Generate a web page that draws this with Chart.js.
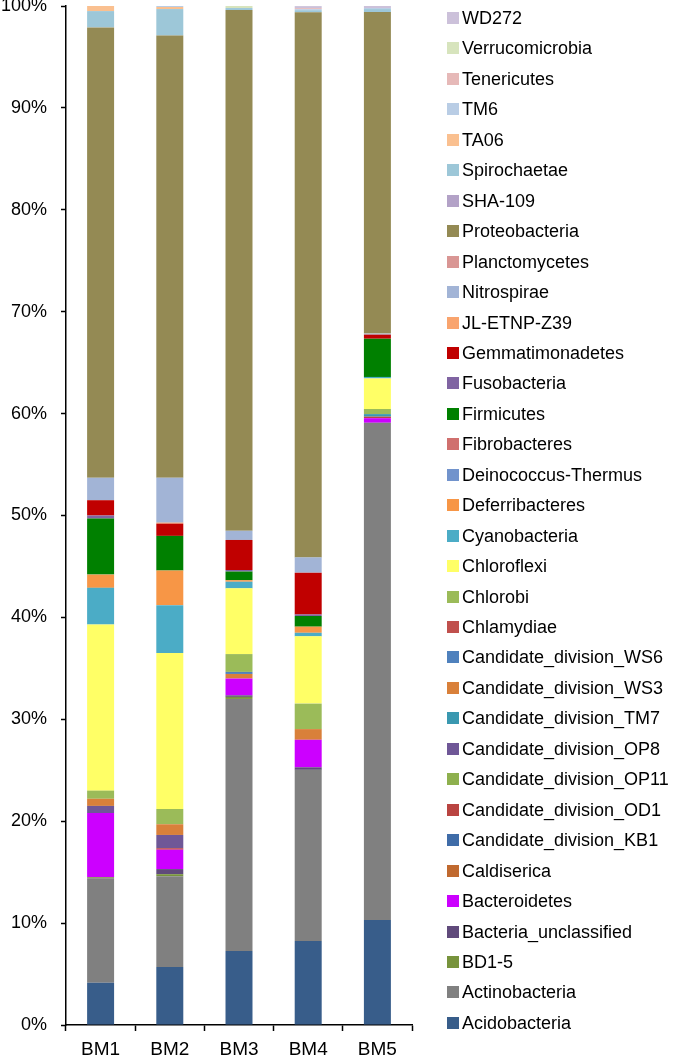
<!DOCTYPE html>
<html>
<head>
<meta charset="utf-8">
<script src="https://cdn.jsdelivr.net/npm/chart.js@4.4.1/dist/chart.umd.min.js"></script>
<style>
  html, body { margin: 0; padding: 0; background: #fff; }
  #wrap { position: relative; width: 685px; height: 1059px; overflow: hidden; }
  #c { position: absolute; left: 0; top: 0; }
  #legend { position: absolute; left: 447px; top: 0; font-family: "Liberation Sans", Arial, sans-serif; font-size: 18px; color: #000; }
  .li { position: absolute; left: 0; height: 22px; white-space: nowrap; }
  .sw { position: absolute; left: 0; top: 5px; width: 12px; height: 12px; }
  .tx { position: absolute; left: 15px; top: 0; line-height: 22px; }
</style>
</head>
<body>
<div id="wrap">
  <canvas id="c" width="685" height="1059"></canvas>
  <div id="legend"></div>
</div>
<script>
// Categories
const categories = ['BM1', 'BM2', 'BM3', 'BM4', 'BM5'];

// Series (bottom-to-top stacking order), values in % per sample
const Acidobacteria            = [4.15, 5.7, 7.26, 8.24, 10.3];
const Actinobacteria           = [10.25, 8.9, 24.74, 16.8, 48.8];
const BD1_5                    = [0.1, 0.2, 0.2, 0, 0];
const Bacteria_unclassified    = [0, 0.5, 0.15, 0.25, 0];
const Bacteroidetes            = [6.3, 1.9, 1.65, 2.7, 0.45];
const Caldiserica              = [0, 0, 0, 0, 0];
const Candidate_division_KB1   = [0, 0, 0, 0, 0];
const Candidate_division_OD1   = [0, 0.15, 0, 0, 0.15];
const Candidate_division_OP11  = [0, 0, 0, 0, 0];
const Candidate_division_OP8   = [0.7, 1.3, 0, 0, 0];
const Candidate_division_TM7   = [0, 0, 0, 0, 0.25];
const Candidate_division_WS3   = [0.7, 1.05, 0.45, 1.05, 0];
const Candidate_division_WS6   = [0, 0, 0.2, 0, 0];
const Chlamydiae               = [0, 0, 0, 0, 0];
const Chlorobi                 = [0.8, 1.5, 1.75, 2.5, 0.5];
const Chloroflexi              = [16.3, 15.3, 6.45, 6.6, 3.0];
const Cyanobacteria            = [3.6, 4.7, 0.65, 0.35, 0.15];
const Deferribacteres          = [1.3, 3.4, 0.15, 0.6, 0];
const Deinococcus_Thermus      = [0, 0, 0, 0, 0];
const Fibrobacteres            = [0, 0, 0, 0, 0];
const Firmicutes               = [5.5, 3.4, 0.85, 1.05, 3.75];
const Fusobacteria             = [0.3, 0, 0.15, 0.15, 0];
const Gemmatimonadetes         = [1.5, 1.2, 2.95, 4.1, 0.4];
const JL_ETNP_Z39              = [0, 0.1, 0, 0, 0];
const Nitrospirae              = [2.2, 4.4, 0.9, 1.5, 0.1];
const Planctomycetes           = [0, 0, 0, 0, 0];
const Proteobacteria           = [44.2, 43.4, 51.1, 53.5, 31.55];
const SHA_109                  = [0, 0, 0, 0, 0];
const Spirochaetae             = [1.6, 2.6, 0.2, 0.2, 0.3];
const TA06                     = [0.5, 0.2, 0, 0, 0];
const TM6                      = [0, 0.15, 0, 0.1, 0.1];
const Tenericutes              = [0, 0, 0, 0.1, 0];
const Verrucomicrobia          = [0, 0, 0.2, 0, 0];
const WD272                    = [0, 0, 0, 0.2, 0.3];

// Tick labels
const yTicks = [0, 10, 20, 30, 40, 50, 60, 70, 80, 90, 100];

const seriesNames = ['Acidobacteria','Actinobacteria','BD1-5','Bacteria_unclassified','Bacteroidetes','Caldiserica',
  'Candidate_division_KB1','Candidate_division_OD1','Candidate_division_OP11','Candidate_division_OP8',
  'Candidate_division_TM7','Candidate_division_WS3','Candidate_division_WS6','Chlamydiae','Chlorobi',
  'Chloroflexi','Cyanobacteria','Deferribacteres','Deinococcus-Thermus','Fibrobacteres','Firmicutes',
  'Fusobacteria','Gemmatimonadetes','JL-ETNP-Z39','Nitrospirae','Planctomycetes','Proteobacteria',
  'SHA-109','Spirochaetae','TA06','TM6','Tenericutes','Verrucomicrobia','WD272'];
const seriesValues = [Acidobacteria, Actinobacteria, BD1_5, Bacteria_unclassified, Bacteroidetes, Caldiserica,
  Candidate_division_KB1, Candidate_division_OD1, Candidate_division_OP11, Candidate_division_OP8,
  Candidate_division_TM7, Candidate_division_WS3, Candidate_division_WS6, Chlamydiae, Chlorobi,
  Chloroflexi, Cyanobacteria, Deferribacteres, Deinococcus_Thermus, Fibrobacteres, Firmicutes,
  Fusobacteria, Gemmatimonadetes, JL_ETNP_Z39, Nitrospirae, Planctomycetes, Proteobacteria,
  SHA_109, Spirochaetae, TA06, TM6, Tenericutes, Verrucomicrobia, WD272];
const seriesColors = ['#385D8A','#808080','#77933C','#604A7B','#CC00FF','#C0692F',
  '#3F6CA8','#B94441','#8EB04E','#6F5797',
  '#3A98B0','#D9803A','#4F81BD','#C0504D','#9BBB59',
  '#FFFF66','#4BACC6','#F79646','#7193CC','#D0706E','#008000',
  '#8064A2','#C00000','#F9A46E','#A2B4D6','#D99694','#948A54',
  '#B3A2C7','#9DC7D8','#FAC090','#B9CDE5','#E6B9B8','#D7E4BD','#CCC1DA'];

const datasets = seriesNames.map((n, i) => ({
  label: n,
  data: seriesValues[i],
  backgroundColor: seriesColors[i],
  borderWidth: 0,
  categoryPercentage: 1.0,
  barPercentage: 0.39
}));

const FONT = '"Liberation Sans", Arial, sans-serif';

new Chart(document.getElementById('c'), {
  type: 'bar',
  data: { labels: categories, datasets },
  options: {
    responsive: false,
    animation: false,
    layout: { padding: { top: 6, right: 273, left: 0, bottom: 0 } },
    plugins: { legend: { display: false }, tooltip: { enabled: false } },
    scales: {
      x: {
        stacked: true,
        grid: { display: true, drawOnChartArea: false, tickLength: 6, tickColor: '#000', tickWidth: 1.5, offset: true },
        border: { color: '#000', width: 1.5 },
        ticks: { color: '#000', font: { family: FONT, size: 19 }, padding: 7 },
        afterFit(s) { s.height = 34; s.paddingLeft = 0; s.paddingRight = 0; }
      },
      y: {
        stacked: true,
        min: 0, max: 100,
        afterBuildTicks(s) { s.ticks = yTicks.map(v => ({ value: v })); },
        ticks: { color: '#000', font: { family: FONT, size: 18 }, padding: 14, callback: v => v + '%' },
        grid: { drawOnChartArea: false, tickLength: 5, tickColor: '#000', tickWidth: 1.5 },
        border: { color: '#000', width: 1.5 },
        afterFit(s) { s.width = 66; s.paddingTop = 0; s.paddingBottom = 0; }
      }
    }
  }
});

// Legend (reverse order, top = last series)
const leg = document.getElementById('legend');
const step = 30.45, firstCenter = 18;
for (let k = 0; k < seriesNames.length; k++) {
  const i = seriesNames.length - 1 - k;
  const d = document.createElement('div');
  d.className = 'li';
  d.style.top = (firstCenter + k * step - 11) + 'px';
  d.innerHTML = '<span class="sw" style="background:' + seriesColors[i] + '"></span><span class="tx">' + seriesNames[i] + '</span>';
  leg.appendChild(d);
}
</script>
</body>
</html>
